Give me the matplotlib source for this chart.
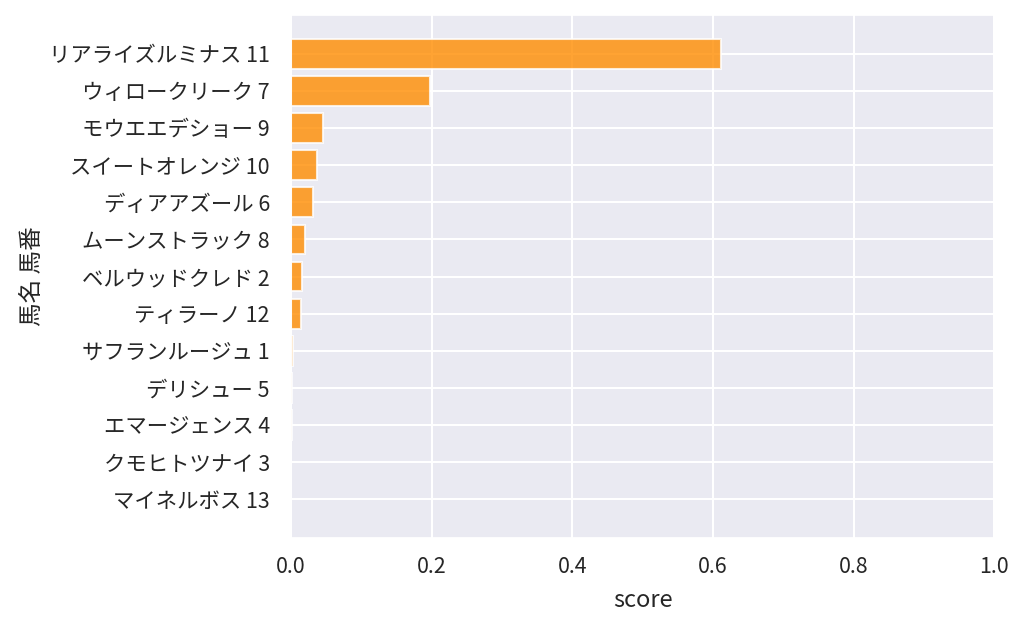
import matplotlib
matplotlib.use("Agg")
import matplotlib.pyplot as plt
import seaborn as sns

horses = ["リアライズルミナス 11", "ウィロークリーク 7", "モウエエデショー 9",
          "スイートオレンジ 10", "ディアアズール 6", "ムーンストラック 8",
          "ベルウッドクレド 2", "ティラーノ 12", "サフランルージュ 1",
          "デリシュー 5", "エマージェンス 4", "クモヒトツナイ 3", "マイネルボス 13"]
scores = [0.612, 0.198, 0.046, 0.037, 0.031, 0.020, 0.016, 0.014,
          0.0025, 0.002, 0.001, 0.0005, 0.0002]

sns.set_theme(style="darkgrid")
plt.rcParams['font.family'] = ['Noto Sans CJK JP', 'DejaVu Sans']
plt.rcParams['grid.linewidth'] = 1.5

fig = plt.figure(figsize=(10.24, 6.27), dpi=100)
ax = fig.add_axes([0.284, 0.142, 0.687, 0.834])
ax.barh(horses, scores, color="darkorange", alpha=0.8, linewidth=1.5)
ax.invert_yaxis()
ax.set_xlim(0, 1.0)
ax.set_xlabel("score", fontsize=17, labelpad=8)
ax.set_ylabel("馬名 馬番", fontsize=17, labelpad=4)
ax.tick_params(labelsize=15.4, size=0)
ax.tick_params(axis="x", pad=13)
ax.tick_params(axis="y", pad=15)

fig.savefig("out.png", dpi=100)
